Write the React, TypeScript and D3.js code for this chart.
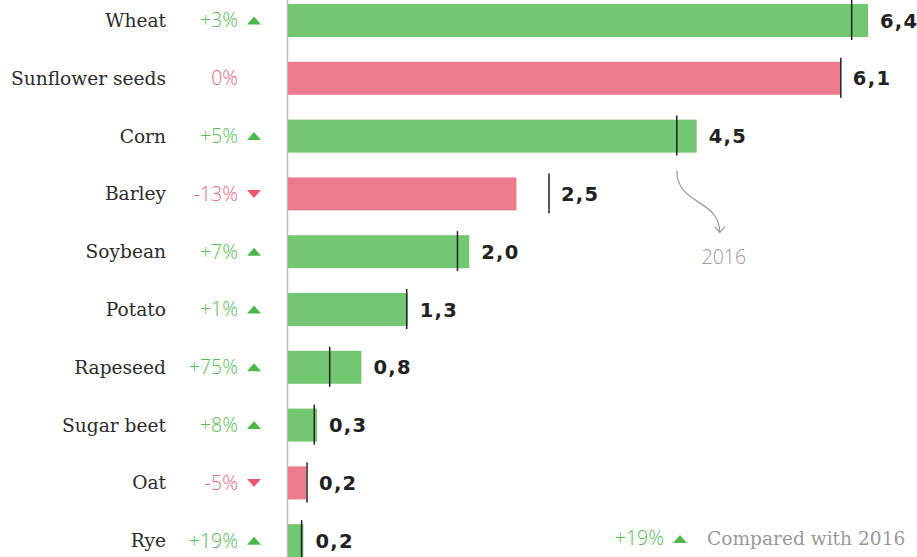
import React from "react";
import * as d3 from "d3";

const categories = ["Wheat", "Sunflower seeds", "Corn", "Barley", "Soybean", "Potato", "Rapeseed", "Sugar beet", "Oat", "Rye"];
const values2017 = [6.4, 6.1, 4.51, 2.52, 2.0, 1.32, 0.81, 0.32, 0.2, 0.17];
const values2016 = [6.22, 6.1, 4.29, 2.88, 1.87, 1.31, 0.46, 0.29, 0.21, 0.15];
const changePct = [3, 0, 5, -13, 7, 1, 75, 8, -5, 19];
const totalChange = 19;
const annotationLabel = "2016";
const legendLabel = "Compared with 2016";

const W = 917;
const H = 557;
const GREEN_BAR = "#73c770";
const RED_BAR = "#ec7c8d";
const GREEN_TXT = "#55bb55";
const RED_TXT = "#e9677a";
const SERIF = "'DejaVu Serif', serif";
const SANS = "'Open Sans', 'Noto Sans', sans-serif";
const BOLD = "'DejaVu Sans', sans-serif";

const fmtVal = (v: number) => d3.format(".1f")(v).replace(".", ",");
const fmtPct = (p: number) => (p > 0 ? "+" : p < 0 ? "-" : "") + Math.abs(p) + "%";

export default function App() {
  const x = d3.scaleLinear().domain([0, 6.4]).range([288, 868]);
  const y = d3.scalePoint<string>().domain(categories).range([20.5, 540.7]);
  const barH = 33;
  const tri = (cx: number, cy: number, up: boolean) =>
    up
      ? `M${cx - 7},${cy + 4} L${cx + 7},${cy + 4} L${cx},${cy - 4} Z`
      : `M${cx - 7},${cy - 4} L${cx + 7},${cy - 4} L${cx},${cy + 4} Z`;

  const cornIdx = categories.indexOf("Corn");
  const ax = x(values2016[cornIdx]);
  const ay = (y("Corn") as number) + barH / 2 + 18;
  const curve = d3.path();
  curve.moveTo(ax, ay);
  curve.bezierCurveTo(ax, ay + 35, ax + 43, ay + 28, ax + 43, ay + 62);

  return (
    <svg width={W} height={H} style={{ position: "absolute", left: 0, top: 0, background: "#fff" }}>
      <line x1={x(0) - 0.5} x2={x(0) - 0.5} y1={0} y2={H} stroke="#bbbbbb" strokeWidth={1.5} />
      {categories.map((c, i) => {
        const cy = y(c) as number;
        const v = values2017[i];
        const p = values2016[i];
        const pct = changePct[i];
        const up = pct > 0;
        const color = pct > 0 ? GREEN_BAR : RED_BAR;
        const txtColor = pct > 0 ? GREEN_TXT : RED_TXT;
        const labelX = Math.max(x(v), x(p)) + 12;
        return (
          <g key={c}>
            <text x={166} y={cy} dy="0.35em" textAnchor="end" fontFamily={SERIF} fontSize={18.6} fill="#2b2b2b">
              {c}
            </text>
            <text x={238} y={cy} dy="0.35em" textAnchor="end" fontFamily={SANS} fontWeight={300} fontSize={19.5} fill={txtColor}>
              {fmtPct(pct)}
            </text>
            {pct !== 0 && <path d={tri(254, cy, up)} fill={up ? "#4cb84c" : "#e8586e"} />}
            <rect x={x(0)} y={cy - barH / 2} width={x(v) - x(0)} height={barH} fill={color} />
            <line x1={x(p)} x2={x(p)} y1={cy - barH / 2 - 4} y2={cy + barH / 2 + 3} stroke="#222" strokeWidth={1.5} />
            <text x={labelX} y={cy} dy="0.36em" fontFamily={BOLD} fontWeight={700} fontSize={19.5} letterSpacing={1.3} fill="#222">
              {fmtVal(v)}
            </text>
          </g>
        );
      })}
      <path d={curve.toString()} fill="none" stroke="#999" strokeWidth={1.2} />
      <path
        d={`M${ax + 38},${ay + 56} L${ax + 43},${ay + 62} L${ax + 48},${ay + 56}`}
        fill="none"
        stroke="#999"
        strokeWidth={1.2}
      />
      <text x={ax + 47} y={264} textAnchor="middle" fontFamily={SANS} fontWeight={300} fontSize={19.5} fill="#999">
        {annotationLabel}
      </text>
      <g>
        <text x={664} y={545} textAnchor="end" fontFamily={SANS} fontWeight={300} fontSize={19.5} fill={GREEN_TXT}>
          {fmtPct(totalChange)}
        </text>
        <path d={tri(680, 539, true)} fill="#4cb84c" />
        <text x={707} y={545} fontFamily={SERIF} fontSize={18.6} fill="#999">
          {legendLabel}
        </text>
      </g>
    </svg>
  );
}
